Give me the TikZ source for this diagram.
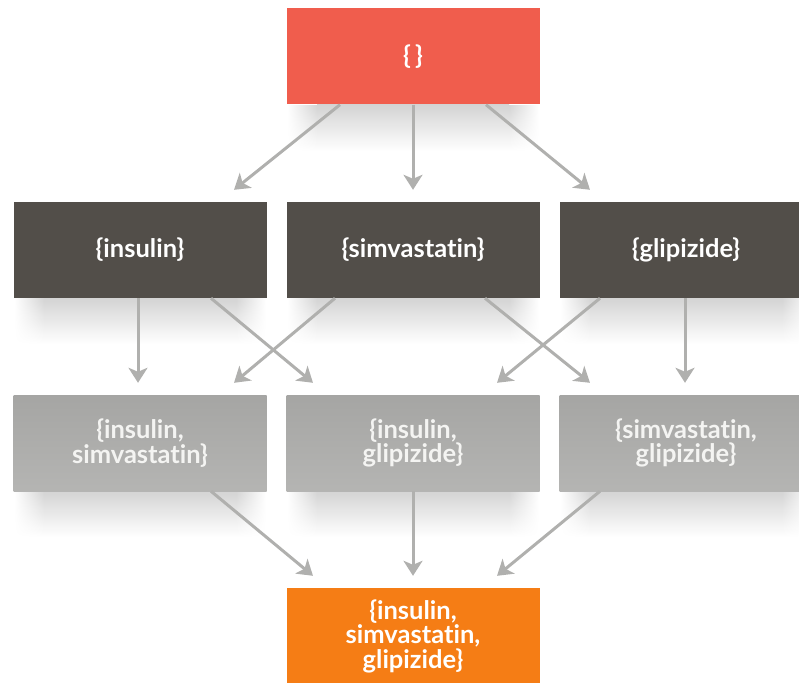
\documentclass[tikz,border=0pt]{standalone}
\usepackage{fontspec}
\setmainfont[Ligatures={NoCommon,NoRequired,NoContextual}]{Lato}
\usetikzlibrary{arrows.meta,calc,fadings}
\definecolor{cred}{HTML}{F05D4D}
\definecolor{cdark}{HTML}{524E49}
\definecolor{cgray}{HTML}{AEAEAC}
\definecolor{corange}{HTML}{F57D15}
\definecolor{carrow}{HTML}{B0B0AE}
\definecolor{ctext}{HTML}{F4F4F2}
\begin{document}
\begin{tikzpicture}[x=1pt,y=-1pt,
  box/.style={minimum width=253pt,minimum height=96pt,inner sep=0pt,align=center,
    font=\bfseries\fontsize{25.5}{24.5}\selectfont,text=white},
  graybox/.style={box,top color=cgray!95!black,bottom color=cgray!92!white,text=ctext},
  arr/.style={draw=carrow,line width=3pt,-{Stealth[length=15pt,width=19pt,inset=4pt]}},
  shadow/.style={top color=black!17,bottom color=white,draw=none}]
\useasboundingbox (0,0) rectangle (799,682);
\clip (0,0) rectangle (799,682);
% shadows
\foreach \cx/\cy in {413/105,140/298,413/298,686/298,140/491,413/491,686/491}{
  \shade[shadow] (\cx-96,\cy) rectangle (\cx+96,\cy+46);
  \shade[shadow,path fading=west] (\cx-126,\cy) rectangle (\cx-96,\cy+46);
  \shade[shadow,path fading=east] (\cx+96,\cy) rectangle (\cx+126,\cy+46);
}
% boxes
\node[box,fill=cred] (r0) at (413,56.5) {\{\,\}};
\node[box,fill=cdark] (a1) at (140,250) {\{insulin\}};
\node[box,fill=cdark] (a2) at (413,250) {\{simvastatin\}};
\node[box,fill=cdark] (a3) at (686,250) {\{glipizide\}};
\node[graybox] (b1) at (140,443) {\{insulin,\\simvastatin\}};
\node[graybox] (b2) at (413,443) {\{insulin,\\glipizide\}};
\node[graybox] (b3) at (686,443) {\{simvastatin,\\glipizide\}};
\node[box,fill=corange] (c0) at (413,636) {\{insulin,\\simvastatin,\\glipizide\}};
% arrows row 0 -> 1
\draw[arr] ($(r0.south)+(-73,0)$) -- ($(a1.north)+(94,-12)$);
\draw[arr] (r0.south) -- ($(a2.north)+(0,-12)$);
\draw[arr] ($(r0.south)+(73,0)$) -- ($(a3.north)+(-96,-12)$);
% arrows row 1 -> 2
\draw[arr] ($(a1.south)+(-2,0)$) -- ($(b1.north)+(-2,-12)$);
\draw[arr] ($(a1.south)+(71,0)$) -- ($(b2.north)+(-100,-12)$);
\draw[arr] ($(a2.south)+(-78,0)$) -- ($(b1.north)+(94,-12)$);
\draw[arr] ($(a2.south)+(72,0)$) -- ($(b3.north)+(-96,-12)$);
\draw[arr] ($(a3.south)+(-86,0)$) -- ($(b2.north)+(84,-12)$);
\draw[arr] ($(a3.south)+(-1,0)$) -- ($(b3.north)+(-1,-12)$);
% arrows row 2 -> 3
\draw[arr] ($(b1.south)+(71,0)$) -- ($(c0.north)+(-100,-12)$);
\draw[arr] (b2.south) -- ($(c0.north)+(0,-12)$);
\draw[arr] ($(b3.south)+(-86,0)$) -- ($(c0.north)+(84,-12)$);
\end{tikzpicture}
\end{document}
